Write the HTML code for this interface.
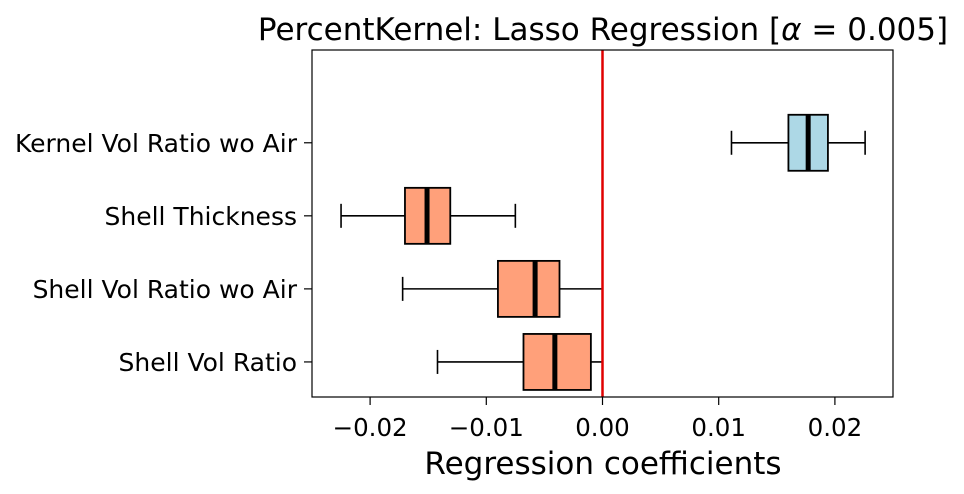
<!DOCTYPE html>
<html><head><meta charset="utf-8"><style>
body{margin:0;background:#fff;}
svg text{font-family:"DejaVu Sans","Liberation Sans",sans-serif;}
</style></head><body>
<svg id="chart" width="964" height="489" viewBox="0 0 964 489">
<text x="603" y="40" font-size="31" text-anchor="middle">PercentKernel: Lasso Regression [<tspan font-style="italic">α</tspan> = 0.005]</text>
<g id="marks"></g>
<rect x="312" y="50" width="581" height="347" fill="none" stroke="#000" stroke-width="1.2"/>
<text x="603" y="474" font-size="31" text-anchor="middle">Regression coefficients</text>
</svg>
<script>
const categories=["Shell Vol Ratio","Shell Vol Ratio wo Air","Shell Thickness","Kernel Vol Ratio wo Air"];
const whiskerLow=[-0.0142,-0.0172,-0.0225,0.0111];
const q1=[-0.0068,-0.0090,-0.0170,0.0160];
const median=[-0.0041,-0.0058,-0.0151,0.0177];
const q3=[-0.0010,-0.0037,-0.0131,0.0194];
const whiskerHigh=[0.0,0.0,-0.0075,0.0226];
const colors=["#ffa07a","#ffa07a","#ffa07a","#add8e6"];
const xTicks=[-0.02,-0.01,0.0,0.01,0.02];
const xTickLabels=["−0.02","−0.01","0.00","0.01","0.02"];
const L=312,R=893,T=50,B=397,xmin=-0.025,xmax=0.025,ymin=0.52,ymax=5.27;
const X=v=>L+(v-xmin)/(xmax-xmin)*(R-L);
const Y=v=>B-(v-ymin)/(ymax-ymin)*(B-T);
const NS="http://www.w3.org/2000/svg";
const g=document.getElementById('marks');
function mk(tag,attrs,parent){const e=document.createElementNS(NS,tag);for(const k in attrs)e.setAttribute(k,attrs[k]);(parent||g).appendChild(e);return e;}
xTicks.forEach((t,i)=>{
 const tk=mk('line',{x1:X(t),x2:X(t),y1:B,y2:B+8,stroke:'#000','stroke-width':1.2});
 
 
 const tx=mk('text',{x:X(t),y:436,'font-size':24.5,'text-anchor':'middle'});tx.textContent=xTickLabels[i];
 
 
});
const bh=56,ch=24;
categories.forEach((c,i)=>{
 const y=Y(i+1);
 const grp=mk('g',{});
 
 
 mk('line',{x1:X(whiskerLow[i]),x2:X(q1[i]),y1:y,y2:y,stroke:'#000','stroke-width':1.6},grp);
 mk('line',{x1:X(q3[i]),x2:X(whiskerHigh[i]),y1:y,y2:y,stroke:'#000','stroke-width':1.6},grp);
 mk('line',{x1:X(whiskerLow[i]),x2:X(whiskerLow[i]),y1:y-ch/2,y2:y+ch/2,stroke:'#000','stroke-width':1.6},grp);
 mk('line',{x1:X(whiskerHigh[i]),x2:X(whiskerHigh[i]),y1:y-ch/2,y2:y+ch/2,stroke:'#000','stroke-width':1.6},grp);
 mk('rect',{x:X(q1[i]),y:y-bh/2,width:X(q3[i])-X(q1[i]),height:bh,fill:colors[i],stroke:'#000','stroke-width':1.8},grp);
 mk('line',{x1:X(median[i]),x2:X(median[i]),y1:y-bh/2,y2:y+bh/2,stroke:'#000','stroke-width':5},grp);
 const tk=mk('line',{x1:L-8,x2:L,y1:y,y2:y,stroke:'#000','stroke-width':1.2});
 
 
 const tx=mk('text',{x:L-15,y:y+9,'font-size':25,'text-anchor':'end'});tx.textContent=c;
 
 
});
const zl=mk('line',{x1:X(0),x2:X(0),y1:T,y2:B,stroke:'#e00000','stroke-width':2.5});


</script>
</body></html>
